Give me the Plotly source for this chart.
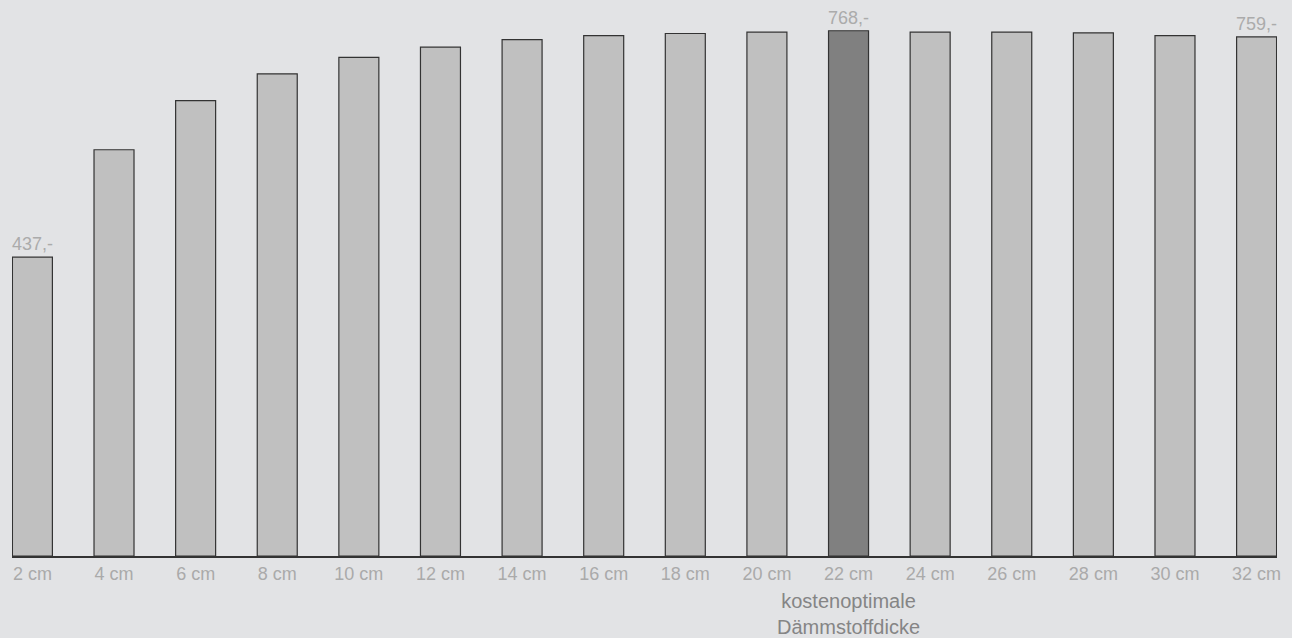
import plotly.graph_objects as go

categories = ["2 cm", "4 cm", "6 cm", "8 cm", "10 cm", "12 cm", "14 cm", "16 cm",
              "18 cm", "20 cm", "22 cm", "24 cm", "26 cm", "28 cm", "30 cm", "32 cm"]
values = [437, 594, 666, 705, 729, 744, 755, 761, 764, 766, 768, 766, 766, 765, 761, 759]
optimal = "22 cm"
labelled = {"2 cm": "437,-", "22 cm": "768,-", "32 cm": "759,-"}
note_text = "kostenoptimale<br>Dämmstoffdicke"

BG = "#e2e3e5"
colors = ["#808080" if c == optimal else "#c0c0c0" for c in categories]

fig = go.Figure()
fig.add_trace(go.Bar(
    x=categories, y=values, width=0.49,
    marker=dict(color=colors, line=dict(color="#333333", width=1.2)),
    hoverinfo="skip",
))

for c, v in zip(categories, values):
    if c in labelled:
        fig.add_annotation(x=c, y=v, text=labelled[c], showarrow=False,
                           yanchor="bottom", yshift=1,
                           font=dict(family="Liberation Sans, Arial", size=18, color="#ababab"))

fig.add_annotation(x=optimal, y=0, yref="paper", text=note_text, showarrow=False,
                   yanchor="top", yshift=-32,
                   font=dict(family="Liberation Sans, Arial", size=20, color="#858585"))

fig.update_layout(
    width=1292, height=638,
    margin=dict(l=12, r=15, t=0, b=82),
    paper_bgcolor=BG, plot_bgcolor=BG,
    showlegend=False,
    bargap=0.5,
    font=dict(family="Liberation Sans, Arial", size=18, color="#aaaaaa"),
)
fig.update_xaxes(type="category", range=[-0.25, 15.25], showline=True,
                 linecolor="#333333", linewidth=2, ticks="", showgrid=False,
                 tickfont=dict(size=18, color="#aaaaaa"))
fig.update_yaxes(range=[0, 813], visible=False, showgrid=False, zeroline=False)

fig.write_html("out.html")
